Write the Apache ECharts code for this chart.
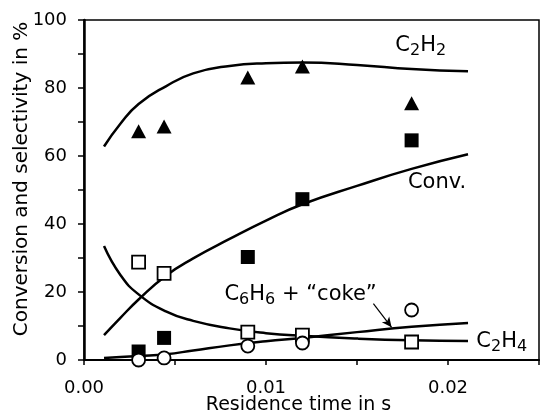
<!DOCTYPE html>
<html>
<head>
<meta charset="utf-8">
<script src="https://cdn.jsdelivr.net/npm/echarts@6/dist/echarts.min.js"></script>
<style>
  html, body { margin: 0; padding: 0; background: #fff; }
  #chart { width: 540px; height: 414px; }
</style>
</head>
<body>
<div id="chart"></div>
<script>
// measured residence times (s)
const times = [0.003, 0.0044, 0.009, 0.012, 0.018];
const c2h2Points = [67.3, 68.7, 83.1, 86.3, 75.5];
const convPoints = [2.5, 6.5, 30.3, 47.3, 64.6];
const c2h4Points = [28.8, 25.5, 8.2, 7.3, 5.3];
const cokePoints = [0, 0.6, 4.1, 5.0, 14.7];

// model curves
const curveTimes = [0.0011, 0.002, 0.003, 0.0045, 0.006, 0.008, 0.010, 0.012, 0.015, 0.018, 0.0211];
const c2h2Curve = [62.8, 69.5, 75.3, 80.5, 84.3, 86.5, 87.3, 87.5, 86.8, 85.6, 84.9];
const convCurve = [7.3, 12.4, 17.8, 24.8, 29.9, 35.6, 41.0, 45.8, 51.2, 56.2, 60.5];
const c2h4Curve = [33.5, 25.0, 19.3, 14.3, 11.5, 9.3, 7.9, 7.1, 6.3, 5.8, 5.6];
const cokeCurve = [0.6, 0.9, 1.2, 1.7, 2.8, 4.3, 5.5, 6.5, 8.2, 9.8, 10.9];

const FONT = "DejaVu Sans";

function pairs(xs, ys) {
  return xs.map((x, i) => [x, ys[i]]);
}

function curve(name, ys, label) {
  return {
    name: name,
    type: "line",
    smooth: 0.5,
    showSymbol: false,
    silent: true,
    lineStyle: { color: "#000", width: 2.5 },
    data: pairs(curveTimes, ys),
    markPoint: label
      ? {
          symbol: "circle",
          symbolSize: 0,
          silent: true,
          label: {
            show: true,
            position: "inside",
            color: "#000",
            fontFamily: FONT,
            fontSize: 21,
            formatter: label.text,
            rich: {
              m: { fontFamily: FONT, fontSize: 21, color: "#000" },
              s: { fontFamily: FONT, fontSize: 16, color: "#000", padding: [10, 0, 0, 0] },
            },
          },
          data: [{ coord: label.at }],
        }
      : undefined,
  };
}

function points(name, ys, symbol, size, filled) {
  return {
    name: name,
    type: "scatter",
    symbol: symbol,
    symbolSize: size,
    silent: true,
    z: 5,
    itemStyle: {
      opacity: 1,
      color: filled ? "#000" : "#fff",
      borderColor: "#000",
      borderWidth: filled ? 0 : 1.8,
    },
    data: pairs(times, ys),
  };
}

const chart = echarts.init(document.getElementById("chart"));

const cokeSeries = curve("C6H6 + coke fit", cokeCurve, {
  text: "{m|C}{s|6}{m|H}{s|6}{m| + \u201Ccoke\u201D}",
  at: [0.0119, 19.3],
});
cokeSeries.markLine = {
  silent: true,
  symbol: ["none", "arrow"],
  symbolSize: [7, 10],
  label: { show: false },
  lineStyle: { color: "#000", width: 1.2, type: "solid", curveness: -0.25 },
  data: [[{ coord: [0.0159, 16.6] }, { coord: [0.0169, 9.6] }]],
};

chart.setOption({
  animation: false,
  grid: {
    left: 84,
    right: 1,
    top: 20,
    bottom: 54,
    outerBoundsMode: "none",
    show: true,
    borderColor: "#000",
    borderWidth: 1.5,
  },
  xAxis: {
    type: "value",
    min: 0,
    max: 0.025,
    interval: 0.005,
    name: "Residence time in s",
    nameLocation: "middle",
    nameGap: 36,
    nameMoveOverlap: false,
    nameTextStyle: { fontFamily: FONT, fontSize: 19, color: "#000", padding: [0, 26, 0, 0] },
    axisLine: { lineStyle: { color: "#000", width: 2 } },
    axisTick: { length: 5, lineStyle: { color: "#000", width: 1.5 } },
    axisLabel: {
      fontFamily: FONT,
      fontSize: 18,
      color: "#000",
      margin: 19,
      formatter: (v) => (Math.round(v * 1000) % 10 === 0 ? v.toFixed(2) : ""),
    },
    splitLine: { show: false },
  },
  yAxis: {
    type: "value",
    min: 0,
    max: 100,
    interval: 10,
    name: "Conversion and selectivity in %",
    nameLocation: "middle",
    nameGap: 52,
    nameMoveOverlap: false,
    nameTextStyle: { fontFamily: FONT, fontSize: 20, color: "#000", padding: [0, 0, 0, 22] },
    axisLine: { lineStyle: { color: "#000", width: 2.5 } },
    axisTick: { length: 6, lineStyle: { color: "#000", width: 1.5 } },
    axisLabel: {
      fontFamily: FONT,
      fontSize: 18,
      color: "#000",
      margin: 17,
      formatter: (v) => (v % 20 === 0 ? String(v) : ""),
    },
    splitLine: { show: false },
  },
  series: [
    curve("C2H2 fit", c2h2Curve, { text: "{m|C}{s|2}{m|H}{s|2}", at: [0.0185, 92.5] }),
    curve("Conv. fit", convCurve, { text: "{m|Conv.}", at: [0.0194, 52.3] }),
    curve("C2H4 fit", c2h4Curve, { text: "{m|C}{s|2}{m|H}{s|4}", at: [0.02295, 5.3] }),
    cokeSeries,
    points("C2H2", c2h2Points, "triangle", [15, 14], true),
    points("Conv.", convPoints, "rect", 14, true),
    points("C2H4", c2h4Points, "rect", 13, false),
    points("C6H6 + coke", cokePoints, "circle", 13, false),
  ],
});
</script>
</body>
</html>
